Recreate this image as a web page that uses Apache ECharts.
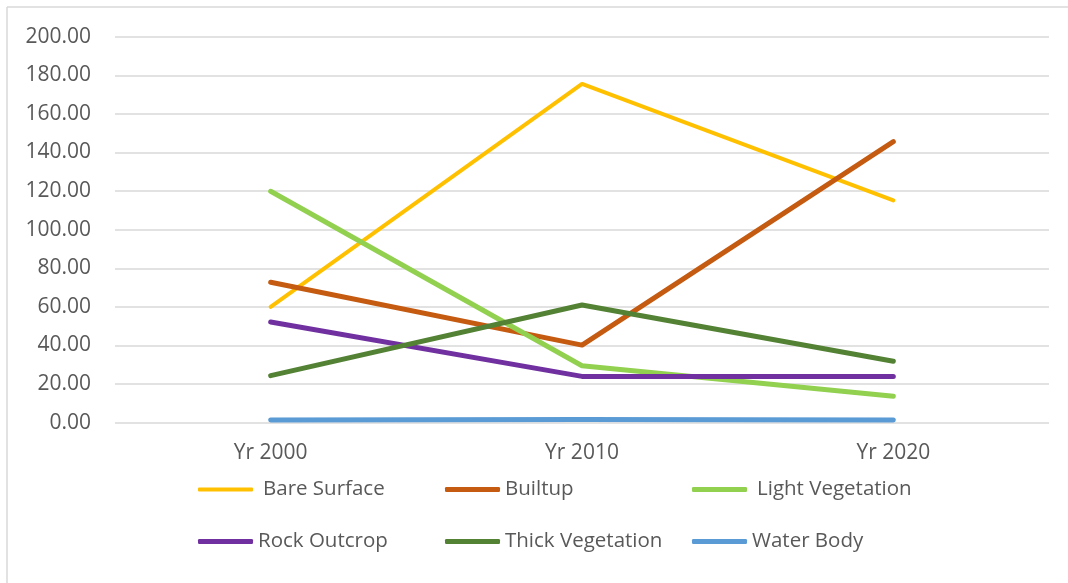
<!DOCTYPE html>
<html>
<head>
<meta charset="utf-8">
<script src="https://cdn.jsdelivr.net/npm/echarts@6/dist/echarts.min.js"></script>
<style>
  html, body { margin: 0; padding: 0; background: #fff; }
  #chart { width: 1068px; height: 583px; }
</style>
</head>
<body>
<div id="chart"></div>
<script>
const years = ["Yr 2000", "Yr 2010", "Yr 2020"];
const bareSurface = [60, 175.5, 115.2];
const builtup = [72.8, 40.2, 145.6];
const lightVegetation = [119.9, 29.5, 13.7];
const rockOutcrop = [52.2, 24.0, 24.0];
const thickVegetation = [24.4, 61, 31.8];
const waterBody = [1.4, 1.6, 1.4];

const font = "'Open Sans', sans-serif";
const textColor = "#595959";

const seriesDefs = [
  { name: "Bare Surface", data: bareSurface, color: "#FFC000", width: 4 },
  { name: "Builtup", data: builtup, color: "#C55A11", width: 5 },
  { name: "Light Vegetation", data: lightVegetation, color: "#92D050", width: 5 },
  { name: "Rock Outcrop", data: rockOutcrop, color: "#7030A0", width: 5 },
  { name: "Thick Vegetation", data: thickVegetation, color: "#548235", width: 5 },
  { name: "Water Body", data: waterBody, color: "#5B9BD5", width: 5 },
];

// legend slots: left, top, gap between icon and text
const legendPos = [
  [198, 479, 10], [445, 479, 5], [692, 479, 10],
  [198, 531, 5], [445, 531, 5], [692, 531, 5],
];

const chart = echarts.init(document.getElementById("chart"));
chart.setOption({
  animation: false,
  grid: { left: 115, right: 19, top: 36.7, bottom: 160.3 },
  xAxis: {
    type: "category",
    data: years,
    axisLine: { show: false },
    axisTick: { show: false },
    axisLabel: { color: textColor, fontFamily: font, fontSize: 21, margin: 20 },
  },
  yAxis: {
    type: "value",
    min: 0,
    max: 200,
    interval: 20,
    axisLine: { show: false },
    axisTick: { show: false },
    axisLabel: {
      color: textColor, fontFamily: font, fontSize: 21, margin: 24,
      formatter: (v) => v.toFixed(2),
    },
    splitLine: { lineStyle: { color: "#D9D9D9", width: 1.5 } },
  },
  legend: seriesDefs.map((s, i) => ({
    show: true,
    data: [{ name: s.name, icon: "roundRect", itemStyle: { color: s.color } }],
    left: legendPos[i][0],
    top: legendPos[i][1],
    padding: 0,
    itemWidth: 55,
    itemHeight: s.width,
    textStyle: {
      color: textColor, fontFamily: font, fontSize: 20.5,
      padding: [0, 0, 0, legendPos[i][2] - 5],
    },
  })),
  graphic: [
    { type: "line", shape: { x1: 7, y1: 7, x2: 1068, y2: 7 }, style: { stroke: "#D9D9D9", lineWidth: 1.5 } },
    { type: "line", shape: { x1: 7, y1: 7, x2: 7, y2: 583 }, style: { stroke: "#D9D9D9", lineWidth: 1.5 } },
  ],
  series: seriesDefs.map((s) => ({
    name: s.name,
    type: "line",
    data: s.data,
    symbol: "none",
    color: s.color,
    lineStyle: { color: s.color, width: s.width, cap: "round", join: "round" },
  })),
});
</script>
</body>
</html>
